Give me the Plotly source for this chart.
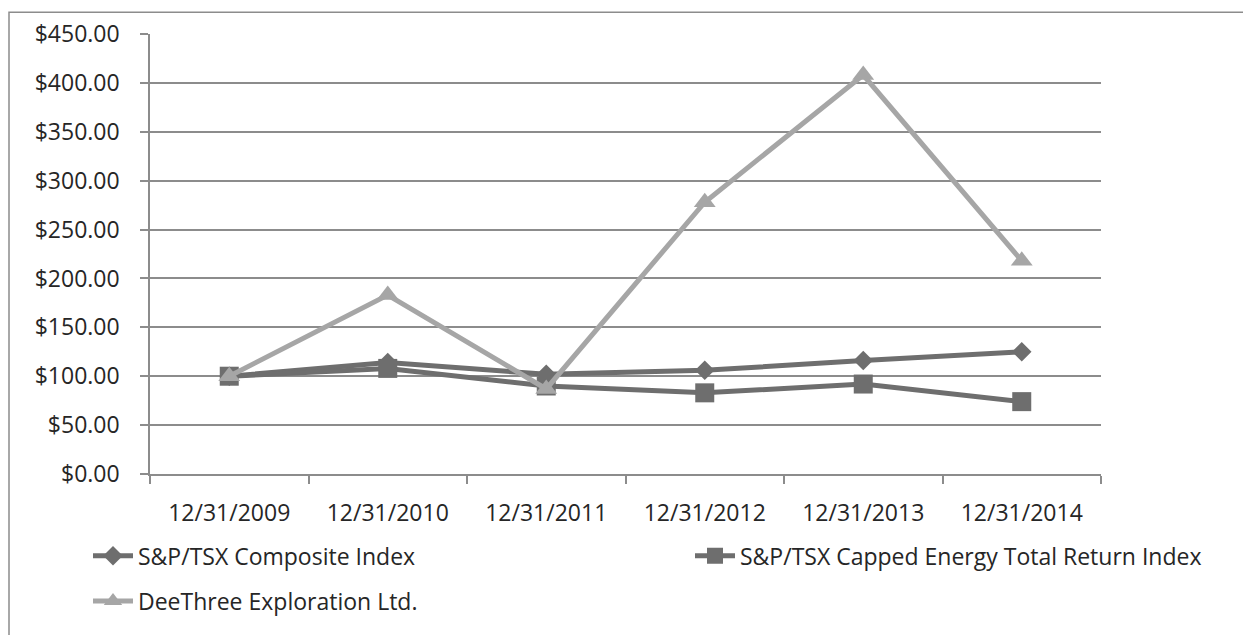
import plotly.graph_objects as go

dates = ["12/31/2009", "12/31/2010", "12/31/2011", "12/31/2012", "12/31/2013", "12/31/2014"]
composite = [100, 114, 102, 106, 116, 125]
energy = [100, 108, 90, 83, 92, 74]
deethree = [100, 183, 87, 278, 408, 218]

names = ["S&P/TSX Composite Index", "S&P/TSX Capped Energy Total Return Index", "DeeThree Exploration Ltd."]

W, H = 1243, 635
L, R, T, B = 150, 142, 34, 155
pw, ph = W - L - R, H - T - B

dark = "#6e6e6e"
light = "#a6a6a6"
font = dict(family="Open Sans", size=23, color="#262626")

fig = go.Figure()
fig.add_trace(go.Scatter(x=dates, y=composite, name=names[0], mode="lines+markers",
                         line=dict(color=dark, width=5),
                         marker=dict(symbol="diamond", size=15, color=dark), legend="legend"))
fig.add_trace(go.Scatter(x=dates, y=energy, name=names[1], mode="lines+markers",
                         line=dict(color=dark, width=5),
                         marker=dict(symbol="square", size=19, color=dark), legend="legend2"))
fig.add_trace(go.Scatter(x=dates, y=deethree, name=names[2], mode="lines+markers",
                         line=dict(color=light, width=5),
                         marker=dict(symbol="triangle-up", size=19, color=light), legend="legend3"))

def px_x(x):
    return (x - L) / pw

def px_y(y):
    return (H - B - y) / ph

leg = dict(orientation="h", xanchor="left", yanchor="top", font=font,
           bgcolor="rgba(0,0,0,0)", itemwidth=40)

fig.update_layout(
    width=W, height=H,
    margin=dict(l=L, r=R, t=T, b=B),
    paper_bgcolor="white", plot_bgcolor="white",
    font=font,
    showlegend=True,
    legend=dict(leg, x=px_x(88), y=px_y(541)),
    legend2=dict(leg, x=px_x(690), y=px_y(541)),
    legend3=dict(leg, x=px_x(88), y=px_y(587)),
    xaxis=dict(type="category", range=[-0.5, 5.5], showgrid=False, showline=True,
               linecolor="#8c8c8c", linewidth=1.5, ticks="outside", tickson="boundaries",
               ticklen=8, tickcolor="#8c8c8c", tickwidth=1.5, tickfont=font,
               ticklabelstandoff=18, fixedrange=True),
    yaxis=dict(range=[0, 450], dtick=50, tickprefix="$", tickformat=".2f",
               showgrid=True, gridcolor="#8c8c8c", gridwidth=1.5,
               showline=True, linecolor="#8c8c8c", linewidth=1.5,
               ticks="outside", ticklen=8, tickcolor="#8c8c8c", tickwidth=1.5,
               tickfont=font, ticklabelstandoff=16, zeroline=False, fixedrange=True),
    shapes=[dict(type="rect", xref="paper", yref="paper",
                 x0=px_x(9), x1=px_x(1260), y0=px_y(650), y1=px_y(12),
                 line=dict(color="#8c8c8c", width=1.5), fillcolor="rgba(0,0,0,0)", layer="below")],
)

fig.write_html("out.html")
